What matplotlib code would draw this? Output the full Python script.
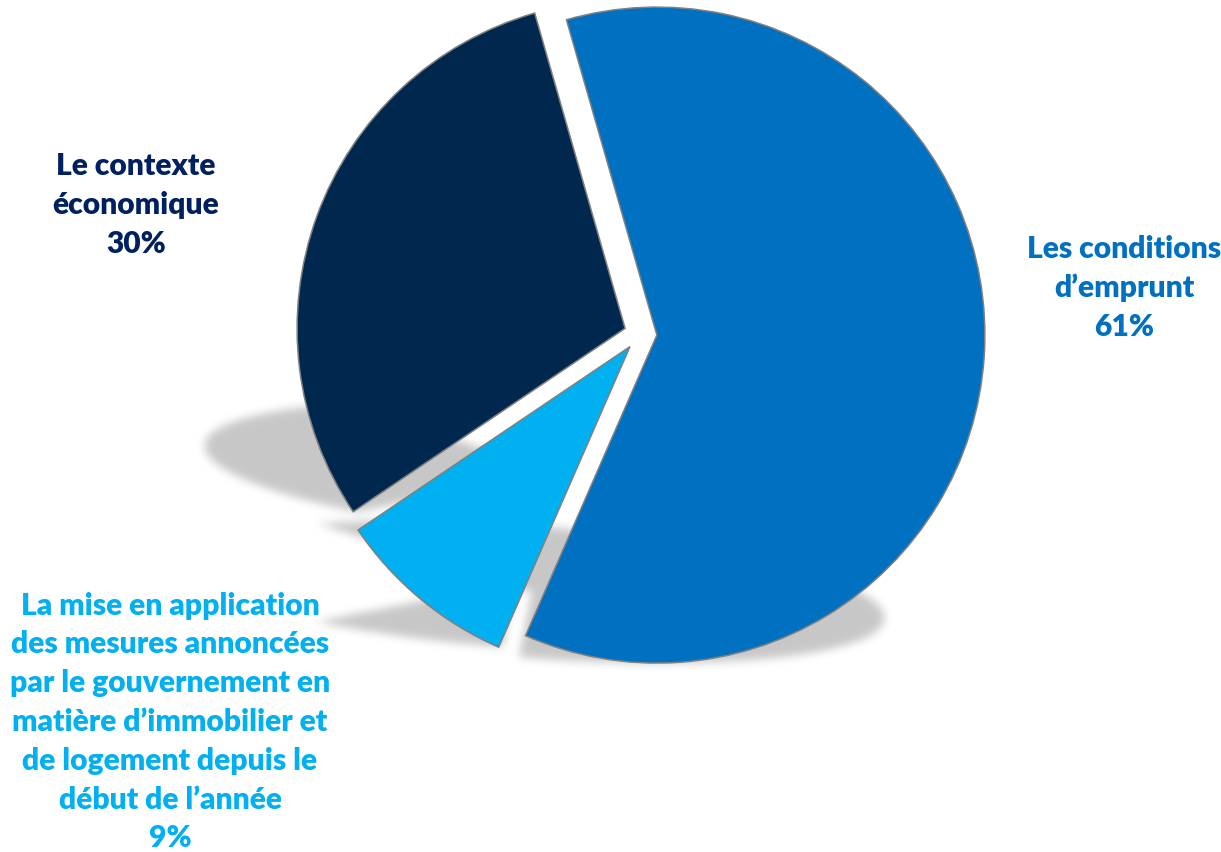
import numpy as np
import matplotlib
matplotlib.use("Agg")
import matplotlib.pyplot as plt
from matplotlib.path import Path

# Survey results: reasons cited
labels = [
    "Les conditions\nd’emprunt",
    "La mise en application\ndes mesures annoncées\npar le gouvernement en\n"
    "matière d’immobilier et\nde logement depuis le\ndébut de l’année",
    "Le contexte\néconomique",
]
shares = [61, 9, 30]
slice_colors = ["#0070C0", "#00B0F0", "#00284F"]
label_colors = ["#0070C0", "#00B0F0", "#002060"]
# label block centres (pixels from the top-left corner)
label_pos = [(1124, 288), (170, 722), (136, 205)]

plt.rcParams["font.family"] = ["Lato", "DejaVu Sans"]

W, H, DPI = 1221, 852, 100
R_PX = 328.0              # pie radius in pixels
CX, CY = 640.5, 334.0     # pie centre in pixels

fig = plt.figure(figsize=(W / DPI, H / DPI), dpi=DPI)
ax = fig.add_axes([0, 0, 1, 1])

wedges, _ = ax.pie(
    shares,
    colors=slice_colors,
    startangle=106,
    counterclock=False,
    explode=[0.05] * len(shares),
    radius=1.0,
    wedgeprops=dict(edgecolor="#808080", linewidth=1.1, zorder=2),
)

x0, x1 = -CX / R_PX, (W - CX) / R_PX
y0, y1 = -(H - CY) / R_PX, CY / R_PX
ax.set_xlim(x0, x1)
ax.set_ylim(y0, y1)
ax.set_aspect("equal")
ax.axis("off")


def wedge_polygon(w, n=240):
    t = np.radians(np.linspace(w.theta1, w.theta2, n))
    cx, cy = w.center
    arc = np.column_stack([cx + w.r * np.cos(t), cy + w.r * np.sin(t)])
    return np.vstack([[cx, cy], arc, [cx, cy]])


# perspective drop shadow: each slice squashed toward its own base and skewed left
SQUASH = 0.217
SKEW = 0.393
SHIFT_X = 4 / R_PX
shadow_polys = []
for w in wedges:
    p = wedge_polygon(w)
    base = p[:, 1].min()
    h = p[:, 1] - base
    shadow_polys.append(np.column_stack([p[:, 0] - SKEW * h + SHIFT_X, base + SQUASH * h]))

cols = x0 + (np.arange(W) + 0.5) / R_PX
rows = y1 - (np.arange(H) + 0.5) / R_PX
gx, gy = np.meshgrid(cols, rows)
pts = np.column_stack([gx.ravel(), gy.ravel()])
mask = np.zeros(H * W)
for poly in shadow_polys:
    mask = np.maximum(mask, Path(poly).contains_points(pts).astype(float))
mask = mask.reshape(H, W)

sigma = 4.5
rad = int(3 * sigma)
kern = np.exp(-0.5 * (np.arange(-rad, rad + 1) / sigma) ** 2)
kern /= kern.sum()
soft = np.apply_along_axis(lambda v: np.convolve(v, kern, mode="same"), 1, mask)
soft = np.apply_along_axis(lambda v: np.convolve(v, kern, mode="same"), 0, soft)

rgba = np.zeros((H, W, 4))
rgba[..., 3] = 0.22 * soft
ax.imshow(rgba, extent=(x0, x1, y0, y1), origin="upper", zorder=0,
          interpolation="bilinear")
ax.set_xlim(x0, x1)
ax.set_ylim(y0, y1)

for lab, val, col, (px, py) in zip(labels, shares, label_colors, label_pos):
    fig.text(px / W, 1 - py / H, f"{lab}\n{val}%", color=col,
             fontsize=21.6, fontweight="heavy", ha="center", va="center",
             multialignment="center", linespacing=1.47)

fig.savefig("out.png", dpi=DPI, facecolor="white")
